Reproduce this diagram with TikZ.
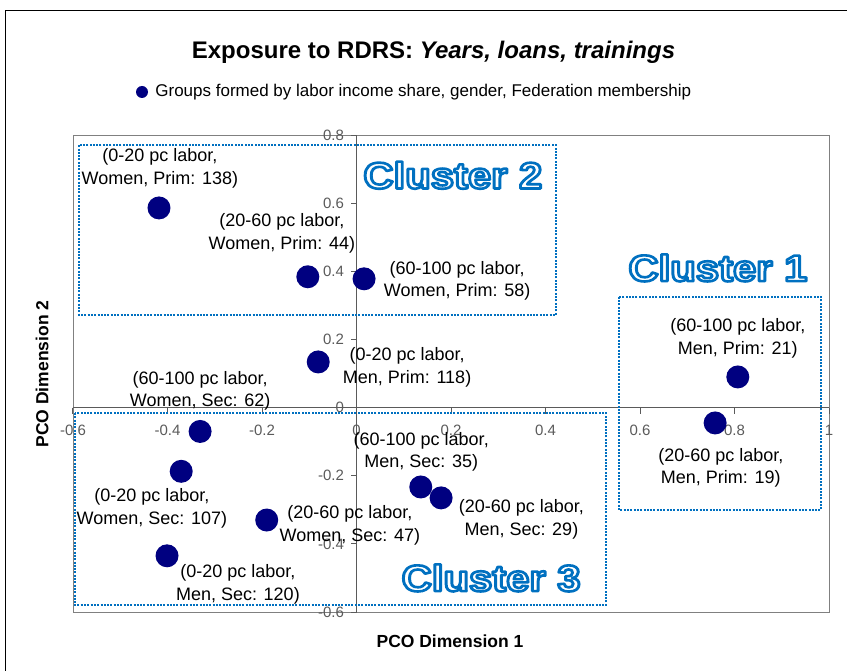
\documentclass[tikz,border=0pt]{standalone}
\usepackage{fontspec}
\setmainfont{Liberation Sans}
\usetikzlibrary{positioning}

\definecolor{navy}{RGB}{0,0,128}
\definecolor{clblue}{RGB}{0,112,192}
\definecolor{axgray}{RGB}{128,128,128}

\tikzstyle{dot} = [circle, fill=navy, minimum size=23pt, inner sep=0pt]
\tikzstyle{lbl} = [align=center, inner sep=0pt, font=\fontsize{18}{22.7}\selectfont]
\tikzstyle{ticklbl} = [inner sep=0pt, font=\fontsize{15}{18}\selectfont]
\tikzstyle{clusterbox} = [draw=clblue, line width=2pt, dash pattern=on 2pt off 1.3pt]
\tikzstyle{clustername} = [inner sep=0pt, font=\fontsize{37}{37}\selectfont\bfseries]
\tikzstyle{axtitle} = [inner sep=0pt, font=\fontsize{17.5}{20}\selectfont\bfseries]

% hollow blue letters: white fill, blue stroke (text render mode 2)
\newcommand{\clname}[1]{\scalebox{1.13}[1]{\textcolor{white}{\special{pdf:literal direct 0 0.439 0.753 RG 2.6 w 1 j 2 Tr}#1\special{pdf:literal direct 0 Tr}}}}

\begin{document}
\begin{tikzpicture}[x=1pt, y=-1pt]
        \useasboundingbox (0,0) rectangle (847,671);
        % chart frame
        \draw[line width=1.2pt] (5.5,700) -- (5.5,10.5) -- (900,10.5);
        % title and key
        \node (title) at (433.5,52) [font=\fontsize{24}{28}\selectfont\bfseries] {Exposure to RDRS: \textit{Years, loans, trainings}};
        \node (key) at (142,92) [dot, minimum size=12pt] {};
        \node (keytext) [right=7pt of key, inner sep=0pt, font=\fontsize{17}{20}\selectfont] {Groups formed by labor income share, gender, Federation membership};
        % axis titles
        \node (xtitle) at (450,641) [axtitle] {PCO Dimension 1};
        \node (ytitle) at (42,374) [axtitle, rotate=90] {PCO Dimension 2};

        \begin{scope}[shift={(356.5,407.6)}, x=472.5pt, y=340.7pt]
            % plot area and axes
            \draw[axgray] (-0.6,-0.6) rectangle (1,0.8);
            \draw[axgray!70!black, line width=1pt] (-0.6,0) -- (1,0) (0,-0.6) -- (0,0.8);
            \foreach \x in {-0.6,-0.4,-0.2,0,0.2,0.4,0.6,0.8,1}
                \draw[axgray!70!black, line width=1pt] (\x,0) -- ++(0,-6pt) node[ticklbl, below=11pt] {\x};
            \foreach \y in {-0.6,-0.4,-0.2,0,0.2,0.4,0.6,0.8}
                \draw[axgray!70!black, line width=1pt] (0,\y) -- ++(-6pt,0) node[ticklbl, left=6pt] {\y};

            % clusters
            \draw[clusterbox] (-0.587,0.770) rectangle (0.422,0.272);
            \draw[clusterbox] (0.556,0.325) rectangle (0.983,-0.301);
            \draw[clusterbox] (-0.596,-0.016) rectangle (0.528,-0.580);
            \node (c2) at (0.204,0.682) [clustername] {\clname{Cluster 2}};
            \node (c1) at (0.765,0.410) [clustername] {\clname{Cluster 1}};
            \node (c3) at (0.285,-0.500) [clustername] {\clname{Cluster 3}};

            % groups
            \node (wprim138) at (-0.418,0.586) [dot] {};
            \node (wprim44) at (-0.103,0.384) [dot] {};
            \node (wprim58) at (0.016,0.378) [dot] {};
            \node (mprim118) at (-0.081,0.134) [dot] {};
            \node (wsec62) at (-0.331,-0.070) [dot] {};
            \node (wsec107) at (-0.371,-0.187) [dot] {};
            \node (wsec47) at (-0.190,-0.330) [dot] {};
            \node (msec120) at (-0.401,-0.435) [dot] {};
            \node (msec35) at (0.136,-0.233) [dot] {};
            \node (msec29) at (0.179,-0.265) [dot] {};
            \node (mprim21) at (0.807,0.090) [dot] {};
            \node (mprim19) at (0.759,-0.045) [dot] {};

            \node (wprim138t) at (-0.416,0.703) [lbl] {(0-20 pc labor,\\Women, Prim: 138)};
            \node (wprim44t) at (-0.158,0.512) [lbl] {(20-60 pc labor,\\Women, Prim: 44)};
            \node (wprim58t) at (0.213,0.372) [lbl] {(60-100 pc labor,\\Women, Prim: 58)};
            \node (mprim118t) at (0.107,0.119) [lbl] {(0-20 pc labor,\\Men, Prim: 118)};
            \node (wsec62t) at (-0.331,0.049) [lbl] {(60-100 pc labor,\\Women, Sec: 62)};
            \node (wsec107t) at (-0.433,-0.296) [lbl] {(0-20 pc labor,\\Women, Sec: 107)};
            \node (wsec47t) at (-0.014,-0.345) [lbl] {(20-60 pc labor,\\Women, Sec: 47)};
            \node (msec120t) at (-0.251,-0.518) [lbl] {(0-20 pc labor,\\Men, Sec: 120)};
            \node (msec35t) at (0.137,-0.130) [lbl] {(60-100 pc labor,\\Men, Sec: 35)};
            \node (msec29t) at (0.349,-0.327) [lbl] {(20-60 pc labor,\\Men, Sec: 29)};
            \node (mprim21t) at (0.807,0.204) [lbl] {(60-100 pc labor,\\Men, Prim: 21)};
            \node (mprim19t) at (0.771,-0.177) [lbl] {(20-60 pc labor,\\Men, Prim: 19)};
        \end{scope}
\end{tikzpicture}
\end{document}
